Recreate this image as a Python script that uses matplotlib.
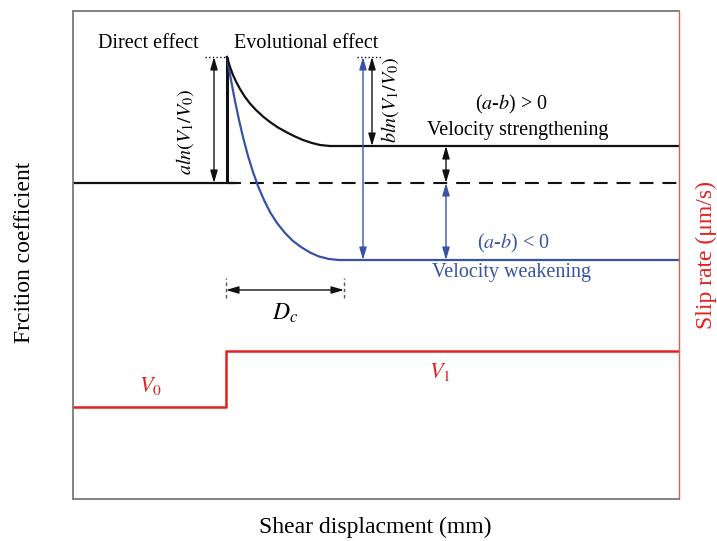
import matplotlib.pyplot as plt

plt.rcParams['font.family'] = ['Liberation Serif', 'DejaVu Serif']
plt.rcParams['mathtext.fontset'] = 'stix'

# schematic units: x = displacement, y = friction / slip rate
x_max, y_max = 606, 488

# friction before the velocity step
base_x = [0, 163]
base_y = [316, 316]
step_x = [154, 154]
step_y = [316, 442]

# evolution after the step, (a-b) > 0
strong_x = [154, 157, 160, 163, 167, 172, 177, 183, 190, 197, 205, 214, 222, 230, 239, 247, 257, 267, 606]
strong_y = [442, 432, 424, 417.5, 410, 402, 395.5, 389, 382.5, 377, 371.5, 366.5, 362.5, 359, 356, 354, 353, 353, 353]

# evolution after the step, (a-b) < 0
weak_x = [154, 158, 162, 166, 170, 175, 180, 185, 191, 197, 204, 212, 220, 228, 237, 246, 256, 266, 276, 606]
weak_y = [442, 419, 398, 379, 362, 343, 327, 313, 299, 287, 276, 266, 258, 252, 246.5, 242.5, 240, 239, 239, 239]

# slip rate, V0 -> V1
rate_x = [0, 153, 153, 606]
rate_y = [92, 92, 148, 148]

peak = 442
dashed_y = 316
dc_start, dc_end = 153, 271

fig = plt.figure(figsize=(7.17, 5.41), dpi=100)
ax = fig.add_axes([73 / 717, 42 / 541, 606 / 717, 488 / 541])
ax.set_xlim(0, x_max)
ax.set_ylim(0, y_max)
ax.set_xticks([])
ax.set_yticks([])
for s in ['left', 'top', 'bottom']:
    ax.spines[s].set_color('#7a7a7a')
    ax.spines[s].set_linewidth(1.3)
ax.spines['right'].set_color('#e35a5a')
ax.spines['right'].set_linewidth(1.0)

black = '#111111'
blue = '#3853a4'
red = '#e4201f'

# curves
ax.plot(base_x, base_y, color=black, lw=1.6, solid_capstyle='butt')
ax.plot(step_x, step_y, color=black, lw=2.2, solid_capstyle='butt')
ax.plot([154, x_max], [dashed_y, dashed_y], color=black, lw=1.5, dashes=(6.7, 4.3))
ax.plot(weak_x, weak_y, color=blue, lw=1.6)
ax.plot(strong_x, strong_y, color=black, lw=1.6)
ax.plot(rate_x, rate_y, color=red, lw=1.8)

# dotted guides at the peak
ax.plot([132, 154], [peak, peak], color=black, lw=1.0, ls=':')
ax.plot([284, 309], [peak, peak], color=black, lw=1.0, ls=':')


def dbl_arrow(x0, y0, x1, y1, color):
    ax.annotate('', xy=(x1, y1), xytext=(x0, y0),
                arrowprops=dict(arrowstyle='<|-|>,head_length=0.75,head_width=0.22',
                                color=color, lw=1.0, shrinkA=0, shrinkB=0,
                                mutation_scale=10))


dbl_arrow(141, dashed_y, 141, peak, black)          # a ln(V1/V0)
dbl_arrow(290, 239, 290, peak, blue)               # total drop
dbl_arrow(299, 353, 299, peak, black)              # b ln(V1/V0)
dbl_arrow(373, dashed_y, 373, 353, black)
dbl_arrow(373, 239, 373, dashed_y, blue)
dbl_arrow(dc_start, 209, dc_end, 209, black)       # Dc
for xd in [dc_start, dc_end]:
    ax.plot([xd, xd], [201, 221], color='#555555', lw=1.0, ls=(0, (2.5, 2)))

# annotations
fs = 14.5
ax.text(75, 456, 'Direct effect', fontsize=fs, ha='center', va='center')
ax.text(233, 456, 'Evolutional effect', fontsize=fs, ha='center', va='center')
ax.text(112, 367, r'$aln(V_\mathit{1}/V_\mathit{0})$', fontsize=fs, rotation=90,
        ha='center', va='center')
ax.text(317, 399, r'$bln(V_\mathit{1}/V_\mathit{0})$', fontsize=fs, rotation=90,
        ha='center', va='center')
ax.text(438, 395, r'($a$-$b$) > 0', fontsize=fs, ha='center', va='center')
ax.text(445, 369, 'Velocity strengthening', fontsize=fs, ha='center', va='center')
ax.text(440, 256, r'($a$-$b$) < 0', fontsize=fs, ha='center', va='center', color=blue)
ax.text(439, 226, 'Velocity weakening', fontsize=fs, ha='center', va='center', color=blue)
ax.text(212, 186, r'$D_c$', fontsize=17, ha='center', va='center')
ax.text(77, 113, r'$V_\mathit{0}$', fontsize=16, ha='center', va='center', color=red)
ax.text(367, 127, r'$V_\mathit{1}$', fontsize=16, ha='center', va='center', color=red)

# axis labels
fig.text(375 / 717, 1 - 527 / 541, 'Shear displacment (mm)', fontsize=17,
         ha='center', va='center')
fig.text(25 / 717, 1 - 252 / 541, 'Frcition coefficient', fontsize=17,
         ha='center', va='center', rotation=90)
fig.text(706 / 717, 1 - 255 / 541, 'Slip rate (μm/s)', fontsize=17,
         ha='center', va='center', rotation=90, color=red)

fig.savefig('out.png', dpi=100)
